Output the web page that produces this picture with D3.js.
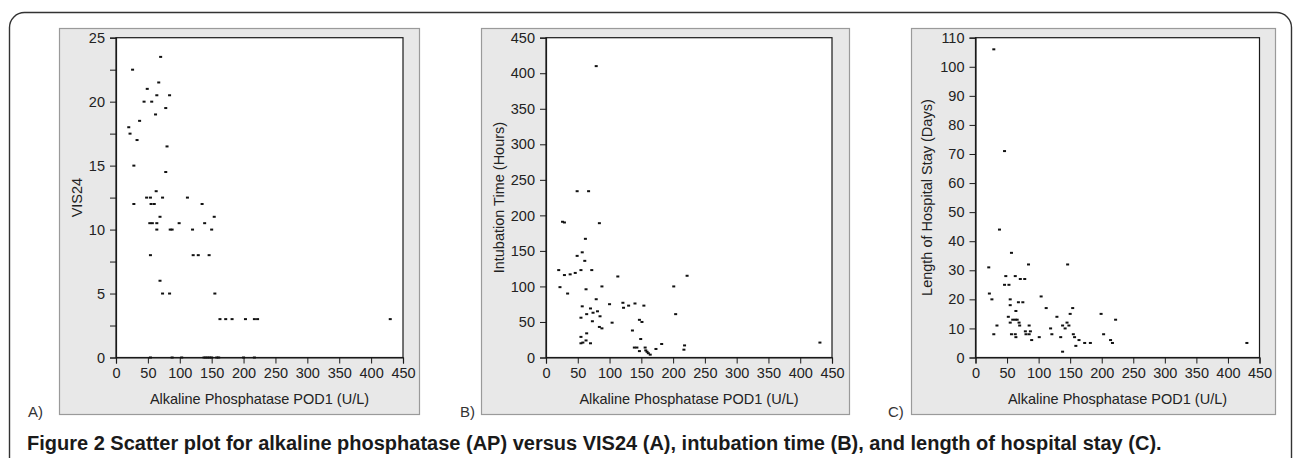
<!DOCTYPE html>
<html><head><meta charset="utf-8">
<script src="https://cdn.jsdelivr.net/npm/d3@7"></script>
<style>
html,body{margin:0;padding:0;background:#fff;}
svg{display:block;}
text{font-family:"Liberation Sans",Arial,sans-serif;}
</style></head>
<body>
<svg id="chart" width="1293" height="458"></svg>
<script>
// ---------- DATA ----------
const xTicks = [0,50,100,150,200,250,300,350,400,450];
const xLabel = "Alkaline Phosphatase POD1 (U/L)";

const apA  = [70,26,67,49,44,56,64,84,78,62,37,20,22,33,80,28,78,63,48,54,73,112,28,55,60,135,69,154,53,57,64,99,139,64,85,88,120,150,54,121,129,146,69,73,84,155,163,172,182,203,217,222,430,54,88,103,138,141,144,147,150,158,161,200,217];
const vis24 = [23.5,22.5,21.5,21,20,20,20.5,20.5,19.5,19,18.5,18,17.5,17,16.5,15,14.5,13,12.5,12.5,12.5,12.5,12,12,12,12,11,11,10.5,10.5,10.5,10.5,10.5,10,10,10,10,10,8,8,8,8,6,5,5,5,3,3,3,3,3,3,3,0,0,0,0,0,0,0,0,0,0,0,0];
const yTicksA = [0,5,10,15,20,25];
const yMinorA = [2.5,7.5,12.5,17.5,22.5];

const apB = [79,49,67,26,29,84,62,57,49,61,20,55,72,29,38,46,113,222,22,88,201,63,34,79,57,100,121,122,130,140,154,70,81,74,64,204,85,55,73,147,151,104,84,88,136,64,55,63,149,55,58,70,182,218,217,431,139,143,147,156,157,159,161,164,173];
const intubation = [410,234,234,191,190,189,167,148,143,136,123,123,123,116,117,119,114,115,99,100,100,96,90,82,72,75,77,70,73,76,73,69,65,63,61,61,58,56,51,53,50,49,43,41,38,34,29,24,26,20,21,20,19,17,11,21,14,14,9,14,10,8,6,4,12];
const yTicksB = [0,50,100,150,200,250,300,350,400,450];

const apC = [29,46,38,57,21,84,146,48,63,46,53,71,78,22,26,55,55,68,75,104,64,112,154,199,222,150,52,129,59,63,66,55,69,70,34,85,138,145,148,142,119,79,87,80,85,29,57,63,64,121,155,157,203,89,101,135,164,214,173,182,217,159,138,430];
const hospitalStay = [106,71,44,36,31,32,32,28,28,25,25,27,27,22,20,20,18,19,19,21,16,17,17,15,13,15,14,14,13,13,13,12,12,11,11,11,11,12,11,10,10,9,9,8,8,8,8,8,7,8,8,7,8,6,7,7,6,6,5,5,5,4,2,5];
const yTicksC = [0,10,20,30,40,50,60,70,80,90,100,110];

const panelLetters = ["A)","B)","C)"];
const yLabels = ["VIS24","Intubation Time (Hours)","Length of Hospital Stay (Days)"];
const caption = "Figure 2 Scatter plot for alkaline phosphatase (AP) versus VIS24 (A), intubation time (B), and length of hospital stay (C).";

// ---------- LAYOUT ----------
const svg = d3.select("#chart");

// outer rounded frame
svg.append("rect").attr("x",9.5).attr("y",12.5).attr("width",1282).attr("height",470)
  .attr("rx",15).attr("fill","none").attr("stroke","#333").attr("stroke-width",1.4);

const panels = [
  {gx:59, gx2:419, px:116, px2:403, ymax:25, yt:yTicksA, ym:yMinorA, xs:apA, ys:vis24, ytx:82, lx:28},
  {gx:481, gx2:849, px:546, px2:832, ymax:450, yt:yTicksB, ym:[], xs:apB, ys:intubation, ytx:504, lx:460},
  {gx:911, gx2:1275, px:975.5, px2:1259.5, ymax:110, yt:yTicksC, ym:[], xs:apC, ys:hospitalStay, ytx:932, lx:888}
];
const gTop = 28, gBot = 414, pTop = 37.7, pBot = 357.5;

panels.forEach((p,i)=>{
  const g = svg.append("g");
  g.append("rect").attr("x",p.gx+0.5).attr("y",gTop+0.5).attr("width",p.gx2-p.gx).attr("height",gBot-gTop)
    .attr("fill","#e8e8e8").attr("stroke","#9a9a9a").attr("stroke-width",1.2);

  const x = d3.scaleLinear().domain([0,450]).range([p.px,p.px2]);
  const y = d3.scaleLinear().domain([0,p.ymax]).range([pBot,pTop]);

  g.append("rect").attr("x",p.px).attr("y",pTop).attr("width",p.px2-p.px).attr("height",pBot-pTop)
    .attr("fill","#fff").attr("stroke","#1a1a1a").attr("stroke-width",1.2);

  const xa = g.append("g").attr("transform",`translate(0,${pBot})`)
    .call(d3.axisBottom(x).tickValues(xTicks).tickSize(6).tickPadding(4).tickFormat(d3.format("d")));
  const ya = g.append("g").attr("transform",`translate(${p.px},0)`)
    .call(d3.axisLeft(y).tickValues(p.yt).tickSize(6).tickPadding(5).tickFormat(d3.format("d")));
  if (p.ym.length){
    g.append("g").attr("transform",`translate(${p.px},0)`)
     .call(d3.axisLeft(y).tickValues(p.ym).tickSize(6).tickFormat(""))
     .select(".domain").remove();
  }
  [xa,ya].forEach(a=>{
    a.select(".domain").attr("stroke","#1a1a1a").attr("stroke-width",1.2);
    a.selectAll(".tick line").attr("stroke","#1a1a1a");
    a.selectAll("text").attr("font-size","14.5px").attr("fill","#222")
      .attr("font-family","'Liberation Sans',Arial,sans-serif");
  });
  g.selectAll("line").attr("stroke","#1a1a1a");

  // points
  g.append("g").selectAll("rect").data(p.xs.map((v,k)=>[v,p.ys[k]])).join("rect")
    .attr("x",d=>x(d[0])-1.5).attr("y",d=>y(d[1])-1).attr("width",3).attr("height",2).attr("fill","#111");

  // axis titles
  g.append("text").attr("x",(p.px+p.px2)/2).attr("y",404).attr("text-anchor","middle")
    .attr("font-size","14.5px").attr("fill","#222").text(xLabel);
  g.append("text").attr("transform",`translate(${p.ytx},${(pTop+pBot)/2}) rotate(-90)`)
    .attr("text-anchor","middle").attr("font-size","14.5px").attr("fill","#222").text(yLabels[i]);

  // panel letter
  svg.append("text").attr("x",p.lx).attr("y",417).attr("font-size","15px").attr("fill","#333").text(panelLetters[i]);
});

// caption
svg.append("text").attr("x",27).attr("y",450).attr("font-size","20px").attr("font-weight","bold")
  .attr("fill","#1a1a1a").text(caption);
</script>
</body></html>
